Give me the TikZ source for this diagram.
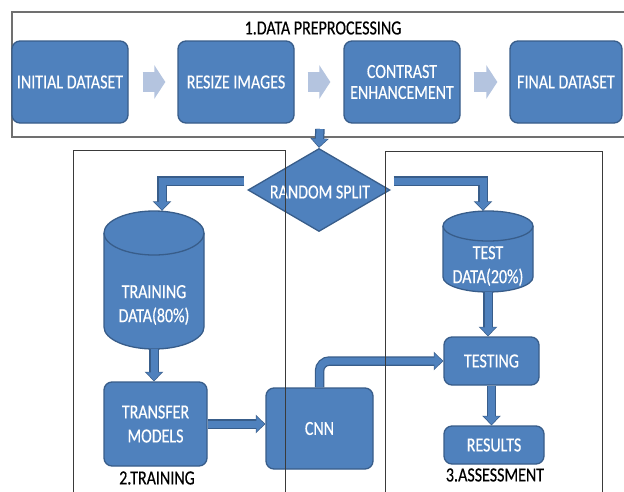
\documentclass[tikz,border=0pt]{standalone}
\usepackage{fontspec}
\setmainfont{Carlito}[FakeStretch=0.8,FakeBold=0.4]
\usetikzlibrary{arrows.meta,calc,shapes.geometric}
\definecolor{bfill}{HTML}{4F81BD}
\definecolor{bline}{HTML}{385D8A}
\definecolor{lite}{HTML}{B4C4DF}
\definecolor{frameg}{HTML}{707070}
\definecolor{framed}{HTML}{3A3A3A}
\tikzset{
  box/.style={draw=bline, fill=bfill, line width=1.3pt, rounded corners=8pt, text=white,
    align=center, inner sep=0pt, font=\fontsize{20}{24}\selectfont},
  wtxt/.style={text=white, align=center, inner sep=0pt, font=\fontsize{20}{24}\selectfont},
  lbl/.style={text=black, inner sep=0pt, font=\fontsize{20}{24}\selectfont},
  conn/.style={draw=bfill, line width=7pt, shorten >=1pt,
    -{Triangle[length=8pt,width=15pt]},
    preaction={draw=bline, line width=9.5pt, shorten >=0pt,
      -{Triangle[length=9.5pt,width=18pt]}}},
  chev/.style={draw=lite, line width=20pt, -{Triangle[length=11pt,width=33pt]}},
  cylbody/.style={draw=bline, fill=bfill, line width=1.3pt},
  holder/.style={inner sep=0pt, draw=none},
  frm/.style={draw=framed, line width=0.9pt},
}
\begin{document}
\begin{tikzpicture}[x=1pt,y=-1pt]
\useasboundingbox (0,0) rectangle (624,491);
\clip (0,0) rectangle (624,491);
\fill[white] (0,0) rectangle (624,491);

% top frame
\draw[draw=frameg, line width=1.6pt] (12,12) rectangle (640,137);
\node[lbl] (title) at (323,28) {1.DATA PREPROCESSING};

% preprocessing boxes
\node[box, minimum width=116pt, minimum height=82pt] (init) at (70,82) {INITIAL DATASET};
\node[box, minimum width=116pt, minimum height=82pt] (resize) at (236,82) {RESIZE IMAGES};
\node[box, minimum width=116pt, minimum height=82pt, font=\fontsize{20}{21}\selectfont] (contrast) at (402,82) {CONTRAST\\ENHANCEMENT};
\node[box, minimum width=112pt, minimum height=82pt] (final) at (566,82) {FINAL DATASET};

\draw[chev] ($(init.east)+(14,0)$) -- ($(resize.west)+(-12,0)$);
\draw[chev] ($(resize.east)+(13,0)$) -- ($(contrast.west)+(-13,0)$);
\draw[chev] ($(contrast.east)+(13,0)$) -- ($(final.west)+(-12,0)$);

% random split
\node[diamond, draw=bline, fill=bfill, line width=1.3pt, inner sep=0pt,
      minimum width=142pt, minimum height=83pt] (split) at (319,190) {};
\node[wtxt] (splittxt) at (320,192) {RANDOM SPLIT};
\coordinate (dtop) at (320,129);
\draw[conn] (dtop) -- (split.north);

% training data cylinder
\filldraw[cylbody] (104,233) -- (104,327) arc[start angle=180, end angle=0, x radius=50, y radius=22]
  -- (204,233) arc[start angle=0, end angle=-180, x radius=50, y radius=22] -- cycle;
\draw[draw=bline, line width=1.3pt] (104,233) arc[start angle=180, end angle=0, x radius=50, y radius=22];
\node[holder, minimum width=100pt, minimum height=138pt] (trdata) at (154,280) {};
\node[wtxt] at (154,305) {TRAINING\\DATA(80\%)};

% test data cylinder
\filldraw[cylbody] (443,226) -- (443,277) arc[start angle=180, end angle=0, x radius=45, y radius=15]
  -- (533,226) arc[start angle=0, end angle=-180, x radius=45, y radius=15] -- cycle;
\draw[draw=bline, line width=1.3pt] (443,226) arc[start angle=180, end angle=0, x radius=45, y radius=15];
\node[holder, minimum width=90pt, minimum height=81pt] (tsdata) at (488,251.5) {};
\node[wtxt] at (488,266) {TEST\\DATA(20\%)};

% split connectors
\draw[conn] ($(split.west)+(-3,-9)$) -| ($(trdata.north)+(8,0)$);
\draw[conn] ($(split.east)+(3,-9)$) -| ($(tsdata.north)+(-5,0)$);

% lower boxes
\node[box, minimum width=103pt, minimum height=84pt] (transfer) at (155.5,424) {TRANSFER\\MODELS};
\node[box, minimum width=107pt, minimum height=81pt] (cnn) at (319.5,428.5) {CNN};
\node[box, minimum width=95pt, minimum height=48pt] (testing) at (491.5,361) {TESTING};
\node[box, minimum width=100pt, minimum height=38pt] (results) at (494,445) {RESULTS};

\draw[conn] (trdata.south) -- (trdata.south |- transfer.north);
\draw[conn] (transfer.east) -- (transfer.east -| cnn.west);
\draw[conn, rounded corners=10pt] (cnn.north) |- (testing.west);
\draw[conn] (tsdata.south) -- (tsdata.south |- testing.north);
\draw[conn] (testing.south) -- (testing.south |- results.north);

\node[lbl] (trlbl) at (157,478) {2.TRAINING};
\node[lbl] (aslbl) at (495,475) {3.ASSESSMENT};

% frames drawn on top
\draw[frm] (73,150) rectangle (285,520);
\draw[frm] (385,151) rectangle (602,520);
\end{tikzpicture}
\end{document}
